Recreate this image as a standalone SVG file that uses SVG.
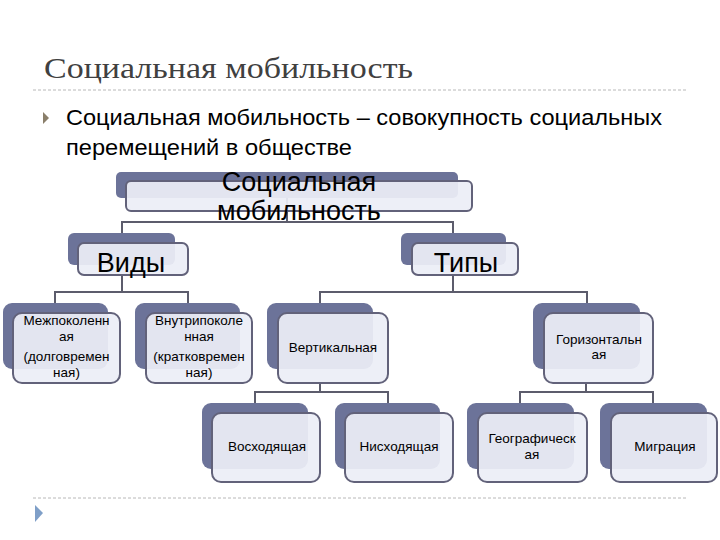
<svg xmlns="http://www.w3.org/2000/svg" width="720" height="540" viewBox="0 0 720 540">
<style>
.bk{fill:#6c7399}
.fr{fill:#eceef6;fill-opacity:0.93;stroke:#62627a;stroke-width:2}
.t{font-family:"Liberation Sans",Arial,sans-serif;fill:#000;text-anchor:middle}
.s{font-size:13.5px}
.b{font-size:27px}
.c{fill:none;stroke:#5c5c6c;stroke-width:2}
.d{stroke:#b8b8b8;stroke-width:1;stroke-dasharray:3 2}
</style>
<rect width="720" height="540" fill="#fff"/>
<text x="44" y="78" font-family="Liberation Serif,serif" font-size="30" fill="#404040" textLength="369" lengthAdjust="spacingAndGlyphs">Социальная мобильность</text>
<line class="d" x1="33" y1="90" x2="688" y2="90"/>
<polygon points="43,112 49,118 43,124" fill="#8a7f6a"/>
<text x="66" y="125" font-family="Liberation Sans,Arial,sans-serif" font-size="22" fill="#000" textLength="596" lengthAdjust="spacingAndGlyphs">Социальная мобильность – совокупность социальных</text>
<text x="66" y="155" font-family="Liberation Sans,Arial,sans-serif" font-size="22" fill="#000" textLength="286" lengthAdjust="spacingAndGlyphs">перемещений в обществе</text>
<line class="d" x1="33" y1="498" x2="688" y2="498"/>
<polygon points="35,505 43,513 35,522" fill="#7f9fc8"/>
<g id="connectors">
<path class="c" d="M287 198V222M122 233V222H453V233"/>
<path class="c" d="M122 275V292M55 303V292H188V303"/>
<path class="c" d="M453 275V292M320 303V292H587V303"/>
<path class="c" d="M320 382V392M255 403V392H388V403"/>
<path class="c" d="M586 382V392M520 403V392H653V403"/>
</g>
<g id="root">
<rect class="bk" x="116" y="172" width="342" height="26" rx="5"/>
<rect class="fr" x="126" y="181" width="346" height="30" rx="5"/>
<text class="t b" x="299" y="191">Социальная</text>
<text class="t b" x="299" y="220">мобильность</text>
</g>
<g id="vidy">
<rect class="bk" x="68" y="233" width="107" height="32" rx="6"/>
<rect class="fr" x="78" y="243" width="110" height="32" rx="6"/>
<text class="t b" x="131" y="272">Виды</text>
</g>
<g id="tipy">
<rect class="bk" x="401" y="233" width="105" height="32" rx="6"/>
<rect class="fr" x="412" y="243" width="106" height="32" rx="6"/>
<text class="t b" x="466" y="272">Типы</text>
</g>
<g id="mezh">
<rect class="bk" x="3" y="303" width="105" height="66" rx="9"/>
<rect class="fr" x="13" y="313" width="107" height="70" rx="9"/>
<text class="t s" x="66.5" y="325">Межпоколенн</text>
<text class="t s" x="66.5" y="341">ая</text>
<text class="t s" x="66.5" y="361">(долговремен</text>
<text class="t s" x="66.5" y="377">ная)</text>
</g>
<g id="vnutri">
<rect class="bk" x="135" y="303" width="105" height="66" rx="9"/>
<rect class="fr" x="146" y="313" width="106" height="70" rx="9"/>
<text class="t s" x="199" y="325">Внутрипоколе</text>
<text class="t s" x="199" y="341">нная</text>
<text class="t s" x="199" y="361">(кратковремен</text>
<text class="t s" x="199" y="377">ная)</text>
</g>
<g id="vert">
<rect class="bk" x="267" y="303" width="106" height="66" rx="9"/>
<rect class="fr" x="278" y="313" width="110" height="70" rx="9"/>
<text class="t s" x="333" y="352">Вертикальная</text>
</g>
<g id="goriz">
<rect class="bk" x="533" y="303" width="107" height="66" rx="9"/>
<rect class="fr" x="544" y="313" width="109" height="70" rx="9"/>
<text class="t s" x="599" y="344">Горизонтальн</text>
<text class="t s" x="599" y="359">ая</text>
</g>
<g id="voskh">
<rect class="bk" x="202" y="403" width="106" height="66" rx="9"/>
<rect class="fr" x="212" y="413" width="108" height="69" rx="9"/>
<text class="t s" x="267" y="451">Восходящая</text>
</g>
<g id="niskh">
<rect class="bk" x="335" y="403" width="105" height="66" rx="9"/>
<rect class="fr" x="345" y="413" width="108" height="69" rx="9"/>
<text class="t s" x="399" y="451">Нисходящая</text>
</g>
<g id="geo">
<rect class="bk" x="467" y="403" width="107" height="66" rx="9"/>
<rect class="fr" x="478" y="413" width="109" height="69" rx="9"/>
<text class="t s" x="532" y="443">Географическ</text>
<text class="t s" x="532" y="459">ая</text>
</g>
<g id="migr">
<rect class="bk" x="600" y="403" width="107" height="66" rx="9"/>
<rect class="fr" x="611" y="413" width="106" height="69" rx="9"/>
<text class="t s" x="665" y="451">Миграция</text>
</g>
</svg>
